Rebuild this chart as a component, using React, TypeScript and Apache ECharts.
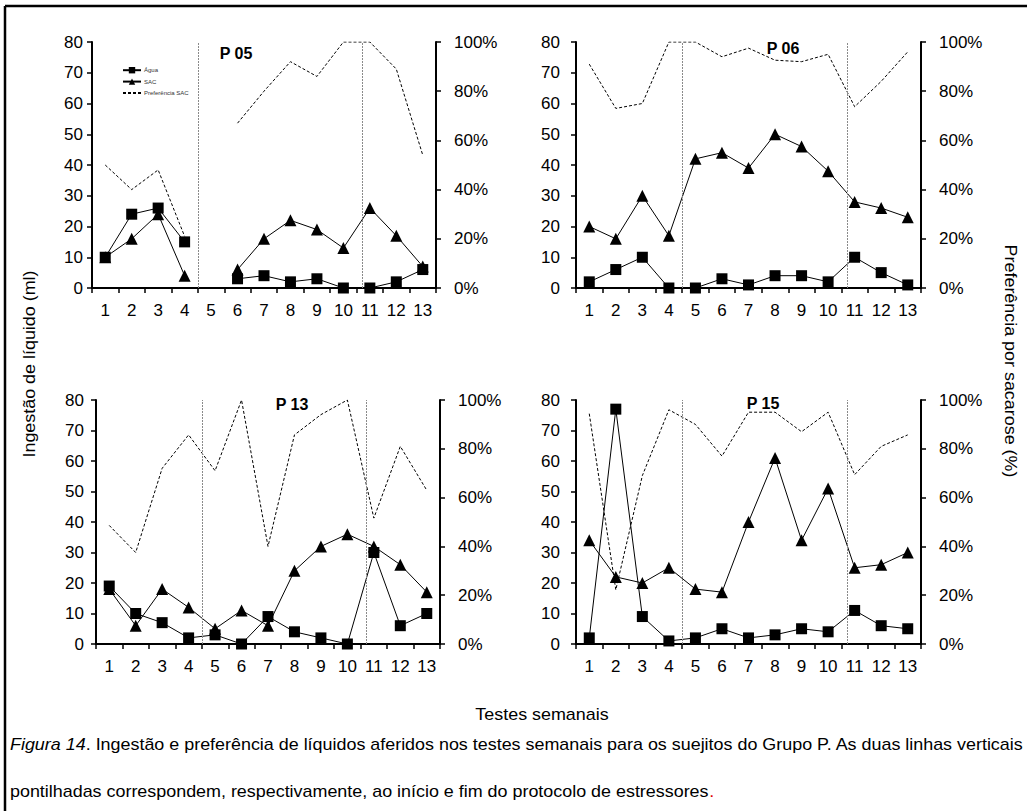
import React, { useEffect, useRef } from "react";
import * as echarts from "echarts";

// Weekly test numbers shown on every category axis
const weeks = ["1", "2", "3", "4", "5", "6", "7", "8", "9", "10", "11", "12", "13"];

// Subject P 05 (ml and %), week 5 not recorded
const p05Agua = [10, 24, 26, 15, null, 3, 4, 2, 3, 0, 0, 2, 6];
const p05Sac = [10, 16, 24, 4, null, 6, 16, 22, 19, 13, 26, 17, 7];
const p05Pref = [50, 40, 48, 21, null, 67, 80, 92, 86, 100, 100, 89, 54];

// Subject P 06
const p06Agua = [2, 6, 10, 0, 0, 3, 1, 4, 4, 2, 10, 5, 1];
const p06Sac = [20, 16, 30, 17, 42, 44, 39, 50, 46, 38, 28, 26, 23];
const p06Pref = [91, 73, 75, 100, 100, 94, 97.5, 92.6, 92, 95, 73.7, 84, 96];

// Subject P 13
const p13Agua = [19, 10, 7, 2, 3, 0, 9, 4, 2, 0, 30, 6, 10];
const p13Sac = [18, 6, 18, 12, 5, 11, 6, 24, 32, 36, 32, 26, 17];
const p13Pref = [48.6, 37.5, 72, 85.7, 71, 100, 40, 85.7, 94, 100, 51.6, 81, 63];

// Subject P 15
const p15Agua = [2, 77, 9, 1, 2, 5, 2, 3, 5, 4, 11, 6, 5];
const p15Sac = [34, 22, 20, 25, 18, 17, 40, 61, 34, 51, 25, 26, 30];
const p15Pref = [94.4, 22.2, 69, 96, 90, 77, 95, 95, 87, 95, 69.4, 81, 85.7];

// Start and end of the stressor protocol (week positions)
const stressorWeeks = [4.5, 10.72];

const subjects = [
  { name: "P 05", agua: p05Agua, sac: p05Sac, pref: p05Pref },
  { name: "P 06", agua: p06Agua, sac: p06Sac, pref: p06Pref },
  { name: "P 13", agua: p13Agua, sac: p13Sac, pref: p13Pref },
  { name: "P 15", agua: p15Agua, sac: p15Sac, pref: p15Pref },
];

const FONT = "'Liberation Sans', Arial, sans-serif";
const WIDE = 1.12; // horizontal stretch of the free-standing texts

// Panel frames and title anchors
const panelLayout = [
  { grid: { left: 92, top: 42, width: 344, height: 246 }, leftMargin: 9, title: [236, 53] },
  { grid: { left: 576, top: 42, width: 345, height: 246 }, leftMargin: 16, title: [783, 48] },
  { grid: { left: 96, top: 400, width: 344, height: 244 }, leftMargin: 12, title: [292, 404] },
  { grid: { left: 576, top: 400, width: 345, height: 244 }, leftMargin: 16, title: [763, 403] },
];

function plainText(text: string, x: number, y: number, rotation = 0, extra: any = {}) {
  return {
    type: "text",
    x,
    y,
    rotation,
    scaleX: WIDE,
    style: {
      text,
      font: `16px ${FONT}`,
      fill: "#000",
      align: "center",
      verticalAlign: "middle",
      ...extra,
    },
  };
}

function buildOption() {
  const grid: any[] = [];
  const xAxis: any[] = [];
  const yAxis: any[] = [];
  const series: any[] = [];
  const graphic: any[] = [];

  const axisLine = { show: true, lineStyle: { color: "#000", width: 2 } };
  const axisTick = { show: true, length: 5, lineStyle: { color: "#000", width: 1.5 } };
  const label = { color: "#000", fontSize: 17, fontFamily: FONT };

  subjects.forEach((s, k) => {
    const lay = panelLayout[k];
    grid.push({ ...lay.grid, containLabel: false });

    xAxis.push({
      type: "category",
      gridIndex: k,
      data: weeks,
      boundaryGap: true,
      axisLine,
      axisTick: { ...axisTick, alignWithLabel: false, inside: false },
      axisLabel: { ...label, margin: 14, interval: 0 },
      splitLine: { show: false },
    });
    xAxis.push({
      type: "value",
      gridIndex: k,
      min: 0.5,
      max: 13.5,
      show: false,
    });

    yAxis.push({
      type: "value",
      gridIndex: k,
      position: "left",
      min: 0,
      max: 80,
      interval: 10,
      axisLine,
      axisTick,
      axisLabel: { ...label, margin: lay.leftMargin },
      splitLine: { show: false },
    });
    yAxis.push({
      type: "value",
      gridIndex: k,
      position: "right",
      min: 0,
      max: 100,
      interval: 20,
      axisLine,
      axisTick,
      axisLabel: { ...label, margin: 18, formatter: "{value}%" },
      splitLine: { show: false },
    });

    const xi = 2 * k;
    const yl = 2 * k;
    const yr = 2 * k + 1;

    series.push({
      name: "Água",
      type: "line",
      xAxisIndex: xi,
      yAxisIndex: yl,
      data: s.agua,
      symbol: "rect",
      symbolSize: 11,
      showAllSymbol: true,
      itemStyle: { color: "#000" },
      lineStyle: { color: "#000", width: 1 },
      connectNulls: false,
      z: 4,
    });
    series.push({
      name: "SAC",
      type: "line",
      xAxisIndex: xi,
      yAxisIndex: yl,
      data: s.sac,
      symbol: "triangle",
      symbolSize: 12,
      showAllSymbol: true,
      itemStyle: { color: "#000" },
      lineStyle: { color: "#000", width: 1 },
      connectNulls: false,
      z: 4,
    });
    series.push({
      name: "Preferência SAC",
      type: "line",
      xAxisIndex: xi,
      yAxisIndex: yr,
      data: s.pref,
      symbol: "none",
      showSymbol: false,
      itemStyle: { color: "#000" },
      lineStyle: { color: "#000", width: 1, type: [3, 2] },
      connectNulls: false,
      z: 3,
    });
    // Dotted verticals marking the stressor protocol
    series.push({
      type: "line",
      xAxisIndex: xi + 1,
      yAxisIndex: yl,
      data: [],
      silent: true,
      markLine: {
        silent: true,
        symbol: "none",
        label: { show: false },
        lineStyle: { color: "#8a8a8a", width: 1, type: [2, 1] },
        data: stressorWeeks.map((w) => ({ xAxis: w })),
      },
    });

    graphic.push({
      type: "text",
      x: lay.title[0],
      y: lay.title[1],
      style: {
        text: s.name,
        font: `bold 16px ${FONT}`,
        fill: "#000",
        align: "center",
        verticalAlign: "middle",
      },
    });
  });

  // Outer figure frame (top and left edges)
  graphic.push({
    type: "line",
    shape: { x1: 5, y1: 6, x2: 1030, y2: 6 },
    style: { stroke: "#000", lineWidth: 2.5 },
  });
  graphic.push({
    type: "line",
    shape: { x1: 5, y1: 6, x2: 5, y2: 815 },
    style: { stroke: "#000", lineWidth: 2.5 },
  });

  graphic.push(plainText("Ingestão de líquido (ml)", 30, 364, Math.PI / 2));
  graphic.push(plainText("Preferência por sacarose (%)", 1010, 361, -Math.PI / 2));
  graphic.push(plainText("Testes semanais", 542, 715));
  graphic.push(
    plainText(
      "{i|Figura 14}. Ingestão e preferência de líquidos aferidos nos testes semanais para os suejitos do Grupo P. As duas linhas verticais",
      10,
      745,
      0,
      { align: "left", rich: { i: { font: `italic 16px ${FONT}`, fill: "#000" } } }
    )
  );
  graphic.push(
    plainText(
      "pontilhadas correspondem, respectivamente, ao início e fim do protocolo de estressores{r|.}",
      10,
      792,
      0,
      { align: "left", rich: { r: { font: `16px ${FONT}`, fill: "#e00000" } } }
    )
  );

  return {
    animation: false,
    backgroundColor: "#fff",
    textStyle: { fontFamily: FONT },
    legend: {
      data: [
        { name: "Água" },
        { name: "SAC" },
        { name: "Preferência SAC", itemStyle: { opacity: 0 } },
      ],
      orient: "vertical",
      left: 117,
      top: 62,
      itemGap: 5,
      itemWidth: 18,
      itemHeight: 8,
      selectedMode: false,
      textStyle: { fontSize: 6, color: "#333", fontFamily: FONT, padding: [0, 0, 0, -2] },
    },
    grid,
    xAxis,
    yAxis,
    series,
    graphic,
  };
}

export default function App() {
  const ref = useRef<HTMLDivElement>(null);

  useEffect(() => {
    if (!ref.current) return;
    const chart = echarts.init(ref.current, undefined, { renderer: "svg" });
    chart.setOption(buildOption() as any);
    return () => chart.dispose();
  }, []);

  return (
    <div
      ref={ref}
      style={{ position: "fixed", left: 0, top: 0, width: 1027, height: 811, background: "#fff" }}
    />
  );
}
